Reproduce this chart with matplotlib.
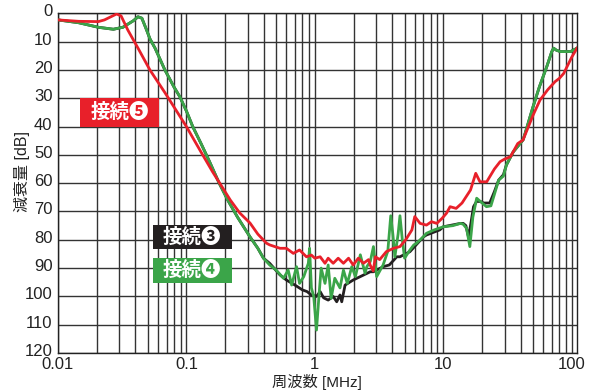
import matplotlib
matplotlib.use("Agg")
import matplotlib.pyplot as plt
import matplotlib.transforms as mtransforms
from matplotlib.ticker import FixedLocator, NullFormatter, LogLocator
from matplotlib.patches import Rectangle

plt.rcParams['font.family'] = ['Liberation Sans', 'Noto Sans CJK JP', 'DejaVu Sans']

# ---- data (frequency in MHz, attenuation in dB) ----
green_f = [0.01, 0.0145, 0.0206, 0.027, 0.032, 0.0386, 0.042, 0.045, 0.049, 0.052, 0.057,
           0.068, 0.08, 0.089, 0.1, 0.112, 0.13, 0.15, 0.18, 0.21, 0.25, 0.313, 0.36, 0.398,
           0.445, 0.5, 0.57, 0.62, 0.66, 0.72, 0.76, 0.82, 0.89, 0.91, 0.94, 0.98, 1.03, 1.08,
           1.12, 1.2, 1.27, 1.34, 1.43, 1.57, 1.67, 1.79, 1.94, 2.07, 2.26, 2.46, 2.54, 2.7,
           2.86, 3.03, 3.4, 3.7, 3.9, 4.05, 4.2, 4.45, 4.6, 4.8, 5.0, 5.5, 5.9, 6.2, 7.0, 7.4,
           8.5, 10, 11.9, 13.6, 14.3, 15.2, 16.1, 17.0, 18.2, 19.5, 21.7, 23.5, 25, 27, 29.4,
           31, 35, 41.8, 43.4, 50, 56, 64, 70, 72.3, 76, 81.6, 98, 110]
green_db = [2.3, 3.3, 4.9, 5.6, 4.9, 2.6, 1.2, 1.7, 5.9, 9.0, 12.3,
            20, 26, 29.5, 34.5, 40, 46, 52, 60, 66, 72, 79, 83, 86.5,
            88.9, 90.7, 93.6, 90.7, 96, 89.5, 95.4, 93, 88.3, 83, 97, 100, 111.9, 99,
            90, 95.4, 88.9, 100.7, 93.6, 97, 90.7, 95.4, 89.5, 93, 85.3, 91.8, 89.5, 87.7,
            82.4, 93, 88.9, 84, 71.5, 78, 86, 78, 71.5, 80, 86.5, 83.6, 81.8, 81.2, 78.9, 77.7,
            76.5, 75.4, 75, 74.2, 74.5, 76, 82.4, 72, 65.3, 66.5, 68.3, 68, 64, 58.9, 57.5,
            53.6, 49, 44.7, 42.4, 33, 26, 18.8, 13.5, 12.3, 13, 13.5, 13.5, 12.3]

black_f = [0.01, 0.0145, 0.0206, 0.027, 0.032, 0.0386, 0.042, 0.045, 0.049, 0.052, 0.057,
           0.068, 0.08, 0.089, 0.1, 0.112, 0.13, 0.15, 0.18, 0.21, 0.25, 0.313, 0.36, 0.398,
           0.445, 0.535, 0.6, 0.7, 0.8, 0.87, 0.94, 1.03, 1.1, 1.17, 1.27, 1.39, 1.48, 1.57,
           1.62, 1.72, 1.99, 2.26, 2.7, 2.86, 3.4, 3.8, 4.35, 4.6, 5.5, 7.0, 7.4, 9.4, 10,
           13.6, 14.3, 15.0, 15.7, 16.3, 17.2, 18.2, 19.5, 20.7, 23, 25, 27, 29.4, 31, 35,
           41.8, 43.4, 50, 56, 64, 70, 72.3, 76, 81.6, 98, 110]
black_db = [2.3, 3.3, 4.9, 5.6, 4.9, 2.6, 1.2, 1.7, 5.9, 9.0, 12.3,
            20, 26, 29.5, 34.5, 40, 46, 52, 60, 66, 72, 79, 83, 86.5,
            88.3, 92.4, 94.2, 96, 97.7, 98.3, 99.5, 100, 98.3, 100.5, 101.3, 100, 101.9, 99.5,
            101.9, 96, 94.2, 93, 91.3, 91.3, 89.5, 88.9, 86, 86, 84.2, 79, 78.3, 76.5, 75.4,
            74.2, 74.2, 75, 78.9, 75, 68.3, 66.4, 66.5, 67, 67, 63, 58.9, 57, 53.6, 49,
            44.7, 42.4, 33, 26, 18.8, 13.5, 12.3, 13, 13.5, 13.5, 12.3]

red_f = [0.01, 0.0145, 0.0206, 0.023, 0.0286, 0.031, 0.035, 0.042, 0.052, 0.068, 0.1, 0.13,
         0.16, 0.2, 0.22, 0.26, 0.313, 0.36, 0.42, 0.445, 0.535, 0.6, 0.68, 0.76, 0.86, 0.94,
         1.0, 1.1, 1.2, 1.27, 1.39, 1.52, 1.67, 1.83, 1.99, 2.18, 2.39, 2.62, 2.7, 2.85, 2.96,
         3.2, 3.6, 4.1, 4.6, 5.1, 5.7, 6.0, 6.6, 7.4, 8.1, 8.9, 9.8, 10.6, 11.3, 12.6, 14,
         16.3, 17.9, 19.3, 21.8, 25, 27.7, 30, 33.4, 38, 41.8, 50, 56.7, 65, 74.3, 80, 86.7,
         100, 110]
red_db = [2.3, 2.8, 2.9, 2.3, 0.2, 0.9, 5.9, 12.3, 20, 28, 40, 49,
          56, 63, 66, 70.5, 74.1, 78, 81.2, 81.8, 83, 83, 84.8, 83.6, 86, 85.4,
          86.5, 86, 88.3, 86.5, 88.3, 86.5, 88.3, 86.5, 88.9, 86.5, 88.3, 87, 89, 91, 86,
          87, 84.2, 83, 82.4, 80, 76.5, 71.8, 74.2, 74.8, 73.6, 74.2, 72.4, 70.6, 68.3, 68.9, 67,
          62.4, 56.5, 59.5, 59.5, 55, 52.4, 51.5, 50.6, 46, 44.7, 36, 30.6, 27, 24.1, 23, 21.2,
          15.5, 12.3]

x_ticks = [0.01, 0.1, 1, 10, 100]
x_ticklabels = ["0.01", "0.1", "1", "10", "100"]
y_ticks = list(range(0, 121, 10))

labels = ["接続❸", "接続❹", "接続❺"]

# ---- figure ----
W, H = 593, 390
fig = plt.figure(figsize=(W/100, H/100), dpi=100)
ax = fig.add_axes([58/W, 1-353/H, (577-58)/W, (353-13.4)/H])

c_red = "#e8202a"
c_green = "#3ba549"
c_black = "#231f20"

ax.plot(black_f, black_db, color=c_black, lw=2.0, solid_joinstyle='round', zorder=3)
ax.plot(green_f, green_db, color=c_green, lw=2.0, solid_joinstyle='round', zorder=4)
ax.plot(red_f, red_db, color=c_red, lw=2.0, solid_joinstyle='round', zorder=5)

ax.set_xscale('log')
ax.set_xlim(0.01, 110)
ax.set_ylim(120, 0)

ax.xaxis.set_major_locator(FixedLocator(x_ticks))
ax.set_xticklabels(x_ticklabels)
ax.xaxis.set_minor_locator(LogLocator(base=10, subs=range(2, 10)))
ax.xaxis.set_minor_formatter(NullFormatter())
ax.set_yticks(y_ticks)

ax.grid(True, which='both', axis='x', color='#333333', lw=1.0)
ax.grid(True, which='major', axis='y', color='#333333', lw=1.0)
ax.tick_params(which='both', length=0, labelsize=12, colors='#222222')
ax.tick_params(axis='x', pad=3)
ax.tick_params(axis='y', pad=4)
for s in ax.spines.values():
    s.set_color('#222222')
    s.set_linewidth(1.0)

# nudge y tick labels up slightly, as in the reference
offset = mtransforms.ScaledTranslation(0, 3/100, fig.dpi_scale_trans)
for lab in ax.get_yticklabels():
    lab.set_transform(lab.get_transform() + offset)

fig.text(317/W, 1-381.5/H, "周波数 [MHz]", fontsize=11, color='#222222',
         ha='center', va='center')
fig.text(22/W, 1-172/H, "減衰量 [dB]", fontsize=11.5, color='#222222',
         ha='center', va='center', rotation=90)

# label boxes (figure-pixel coordinates)
def box(text, x0, y0, x1, y1, color):
    r = Rectangle((x0/W, 1-y1/H), (x1-x0)/W, (y1-y0)/H, transform=fig.transFigure,
                  facecolor=color, edgecolor='none', zorder=10)
    fig.patches.append(r)
    fig.text((x0+x1)/2/W, 1-(y0+y1)/2/H, text, color='white', fontsize=14,
             fontweight='bold', ha='center', va='center', zorder=11,
             family=['Noto Sans CJK JP', 'DejaVu Sans'])

box(labels[2], 80, 98, 159, 127, c_red)
box(labels[0], 152.7, 225, 231.7, 249.3, c_black)
box(labels[1], 152.7, 257.7, 231.7, 283.3, c_green)

fig.savefig("out.png", dpi=100)
